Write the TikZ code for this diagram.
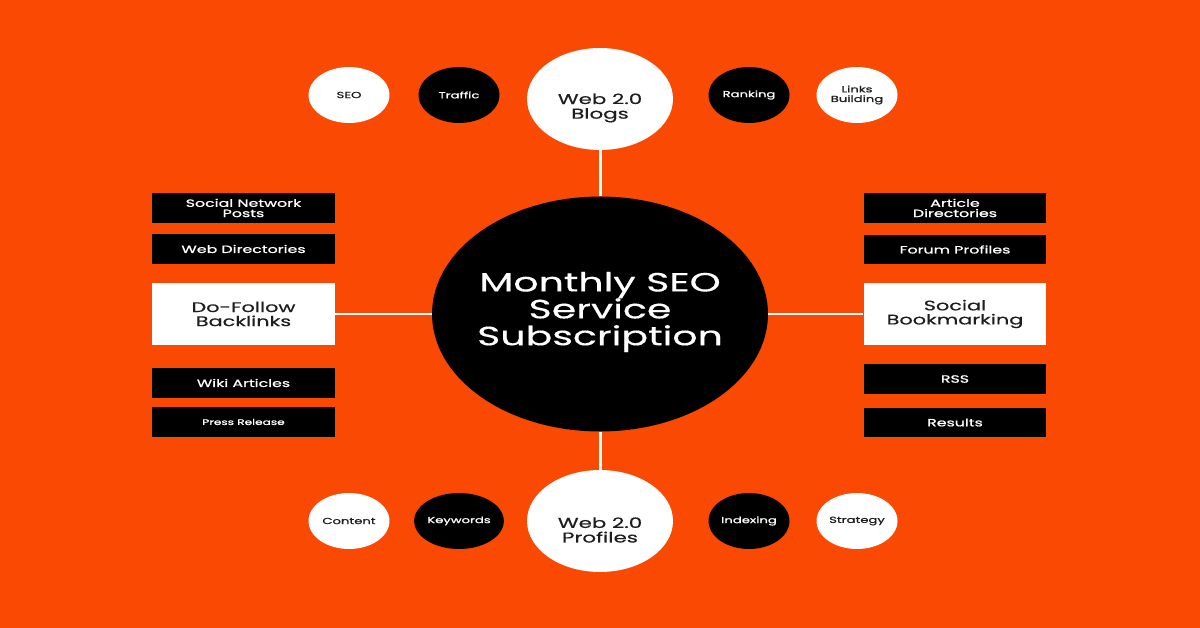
\documentclass[tikz,border=0pt]{standalone}
\usepackage{fontspec}
\setmainfont{Poppins}[FakeStretch=1.5, FakeBold=0.4]
\newfontfamily\tagfont{Poppins}[FakeStretch=1.5, FakeBold=1.0]
\usetikzlibrary{shapes.geometric}
\definecolor{seoorange}{RGB}{250,73,2}
\definecolor{inkdark}{RGB}{30,30,30}

\begin{document}
\begin{tikzpicture}[
        x=0.02cm, y=-0.02cm,
        hub/.style={
            ellipse, fill=black, inner sep=0pt,
            minimum width=6.72cm, minimum height=4.7cm
        },
        hubtext/.style={
            text=white, align=center, yshift=0.04cm,
            font=\fontsize{15}{15.3}\selectfont
        },
        bigdot/.style={
            ellipse, fill=white, inner sep=0pt,
            minimum width=2.92cm, minimum height=2.04cm
        },
        bigtext/.style={
            text=inkdark, align=center, yshift=-0.18cm,
            font=\fontsize{8.1}{8.3}\selectfont
        },
        dotw/.style={
            ellipse, fill=white, text=inkdark, inner sep=0pt,
            minimum width=1.62cm, minimum height=1.12cm,
            align=center, font=\tagfont\fontsize{5}{5.5}\selectfont
        },
        dotb/.style={dotw, fill=black, text=white},
        tagbox/.style={
            rectangle, fill=black, text=white, inner sep=0pt,
            minimum width=3.65cm, minimum height=0.6cm,
            align=center, font=\tagfont\fontsize{6}{5.8}\selectfont
        },
        keybox/.style={
            rectangle, fill=white, text=inkdark, inner sep=0pt,
            minimum width=3.65cm, minimum height=1.23cm,
            align=center, font=\fontsize{7.9}{8}\selectfont
        },
        link/.style={draw=white, line width=1.7pt}
    ]

    % Fondo
    \fill[seoorange] (0,0) rectangle (1200,628);
    \useasboundingbox (0,0) rectangle (1200,628);

    % 1. Nodo central
    \node[hub, label={[hubtext]center:{Monthly SEO\\Service\\Subscription}}] (hub) at (600,314) {};

    % 2. Elipses arriba y abajo (texto algo bajo el centro)
    \node[bigdot, label={[bigtext]center:{Web 2.0\\Blogs}}] (blogs) at (600,99) {};
    \node[bigdot, label={[bigtext]center:{Web 2.0\\Profiles}}] (profiles) at (600,521) {};

    % 3. Cajas blancas a los lados
    \node[keybox] (dofollow) at (243.5,314) {Do-Follow\\Backlinks};
    \node[keybox] (bookmark) at (955,314) {Social\\Bookmarking};

    % Conexiones
    \draw[link] (hub) -- (blogs);
    \draw[link] (hub) -- (profiles);
    \draw[link] (hub) -- (dofollow);
    \draw[link] (hub) -- (bookmark);

    % 4. Circulos pequenos arriba
    \node[dotw] (seo) at (349,95) {SEO};
    \node[dotb] (traffic) at (459,95) {Traffic};
    \node[dotb] (ranking) at (749,95) {Ranking};
    \node[dotw] (linksb) at (857,95) {Links\\Building};

    % 5. Circulos pequenos abajo
    \node[dotw] (content) at (349,521) {Content};
    \node[dotb] (keywords) at (459,521) {Keywords};
    \node[dotb] (indexing) at (749,521) {Indexing};
    \node[dotw] (strategy) at (857,521) {Strategy};

    % 6. Cajas negras izquierda
    \node[tagbox] (socialnet) at (243.5,208) {Social Network\\Posts};
    \node[tagbox] (webdir) at (243.5,249) {Web Directories};
    \node[tagbox] (wiki) at (243.5,383) {Wiki Articles};
    \node[tagbox, font=\tagfont\fontsize{4.6}{6}\selectfont] (press) at (243.5,422) {Press Release};

    % 7. Cajas negras derecha
    \node[tagbox] (article) at (955,208) {Article\\Directories};
    \node[tagbox] (forum) at (955,249.5) {Forum Profiles};
    \node[tagbox] (rss) at (955,379) {RSS};
    \node[tagbox] (results) at (955,422.5) {Results};

\end{tikzpicture}
\end{document}
